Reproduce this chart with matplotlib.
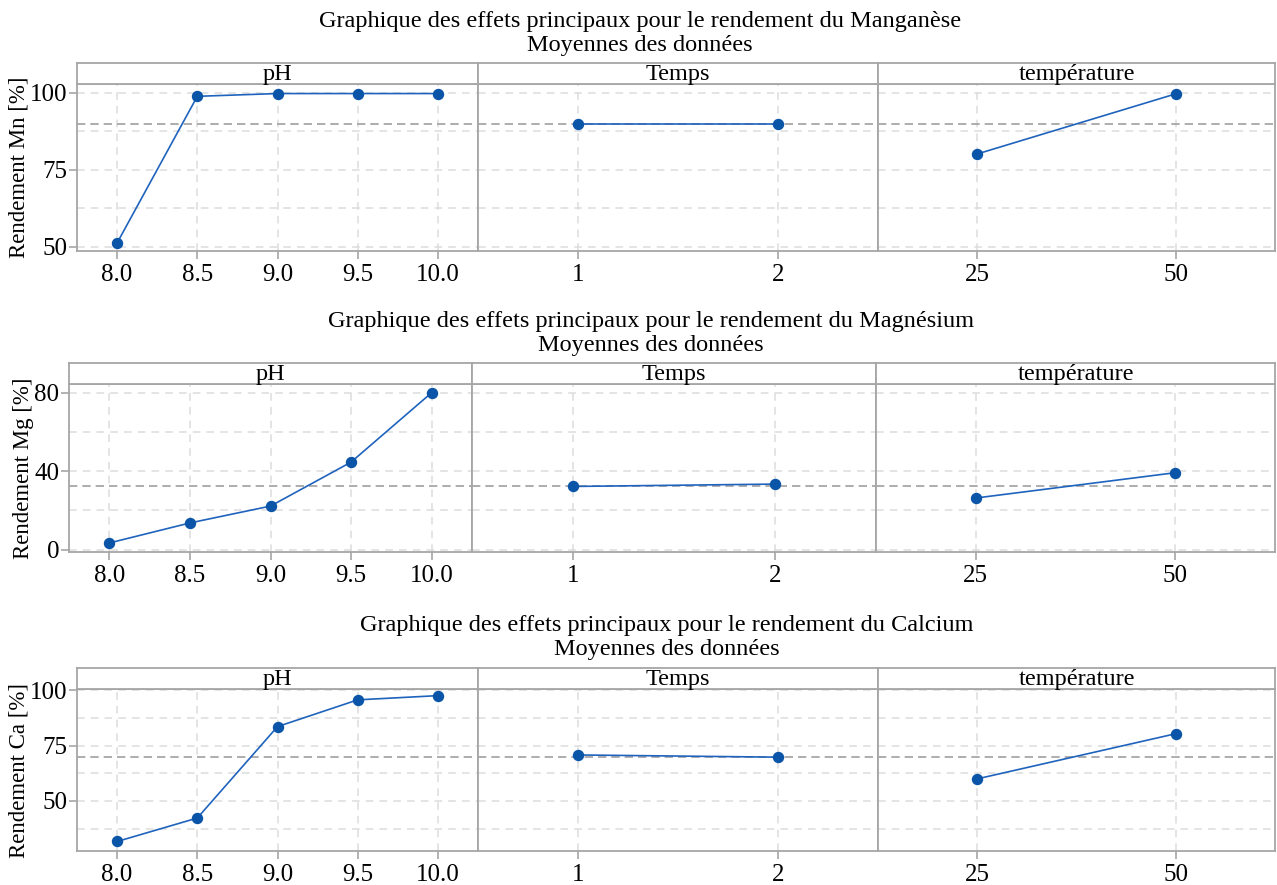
import numpy as np
import matplotlib
matplotlib.use('Agg')
import matplotlib.pyplot as plt
from matplotlib.ticker import MultipleLocator

plt.rcParams['font.family'] = ['Liberation Serif', 'DejaVu Serif']

#### DATA ####
ph_levels = [8.0, 8.5, 9.0, 9.5, 10.0]
temps_levels = [1, 2]
temp_levels = [25, 50]
facets = ['pH', 'Temps', 'température']

mn_ph = [51.3, 98.9, 99.8, 99.8, 99.8]
mn_temps = [89.9, 89.9]
mn_temp = [80.2, 99.7]
mn_mean = 89.9

mg_ph = [3.4, 13.6, 22.2, 44.6, 80.0]
mg_temps = [32.2, 33.4]
mg_temp = [26.3, 39.2]
mg_mean = 32.6

ca_ph = [31.7, 42.3, 83.6, 95.7, 97.6]
ca_temps = [70.8, 69.8]
ca_temp = [60.0, 80.4]
ca_mean = 70.0

titles = ['Graphique des effets principaux pour le rendement du Manganèse',
          'Graphique des effets principaux pour le rendement du Magnésium',
          'Graphique des effets principaux pour le rendement du Calcium']
subtitle = 'Moyennes des données'
ylabels = ['Rendement Mn [%]', 'Rendement Mg [%]', 'Rendement Ca [%]']

rows = [
    (mn_ph, mn_temps, mn_temp, mn_mean, (48.7, 102.9), 25),
    (mg_ph, mg_temps, mg_temp, mg_mean, (-1.2, 84.4), 40),
    (ca_ph, ca_temps, ca_temp, ca_mean, (27.4, 100.6), 25),
]

#### LAYOUT (pixels) ####
W, H = 1277, 885
# strip top, strip bottom, panel bottom, x edges, title center x, title y
layout = [
    (63, 84, 251, [77, 478, 878, 1275], 640, 21),
    (363, 384, 552, [69, 472, 876, 1275], 651, 322),
    (668, 689, 851, [77, 478, 878, 1275], 667, 626),
]
xlims = [(7.75, 10.25), (0.5, 2.5), (12.5, 62.5)]
xticks = [ph_levels, temps_levels, temp_levels]
xticklabels = [['8.0', '8.5', '9.0', '9.5', '10.0'], ['1', '2'], ['25', '50']]

edge = '#a6a6a6'
gridc = '#dcdcdc'
linec = '#1f63bd'
markc = '#0b55a8'

fig = plt.figure(figsize=(W / 100, H / 100), dpi=100)

for r, (ph_v, tps_v, tmp_v, mean_v, ylim, major) in enumerate(rows):
    s_top, s_bot, p_bot, xe, tx, ty = layout[r]
    fig.text(tx / W, 1 - ty / H, titles[r], ha='center', va='center', fontsize=17.5)
    fig.text(tx / W, 1 - (ty + 24) / H, subtitle, ha='center', va='center', fontsize=17.5)
    series = [ph_v, tps_v, tmp_v]
    for c in range(3):
        x0, x1 = xe[c], xe[c + 1]
        ax = fig.add_axes([x0 / W, 1 - p_bot / H, (x1 - x0) / W, (p_bot - s_bot) / H])
        ax.set_xlim(*xlims[c])
        ax.set_ylim(*ylim)
        ax.yaxis.set_major_locator(MultipleLocator(major))
        ax.yaxis.set_minor_locator(MultipleLocator(major / 2))
        ax.set_xticks(xticks[c])
        ax.set_xticklabels(xticklabels[c])
        ax.grid(True, which='both', axis='y', color=gridc, linestyle=(0, (5, 4)), linewidth=1.1)
        ax.grid(True, which='major', axis='x', color=gridc, linestyle=(0, (5, 4)), linewidth=1.1)
        ax.set_axisbelow(True)
        ax.axhline(mean_v, color='#a0a0a0', linestyle=(0, (5, 3)), linewidth=1.2, zorder=1)
        ax.plot(xticks[c], series[c], '-', color=linec, linewidth=1.2, zorder=3)
        ax.plot(xticks[c], series[c], 'o', color=markc, markersize=7.2, zorder=4)
        for sp in ax.spines.values():
            sp.set_color(edge)
            sp.set_linewidth(1.3)
        ax.tick_params(axis='both', which='major', colors=edge, labelcolor='black',
                       labelsize=18, length=6, width=1.2)
        ax.tick_params(axis='y', which='major', pad=1)
        ax.tick_params(axis='y', which='minor', length=0)
        if c == 0:
            ax.set_ylabel(ylabels[r], fontsize=16.5, labelpad=0.5)
        else:
            ax.tick_params(axis='y', which='both', left=False, labelleft=False)
        # facet strip
        sax = fig.add_axes([x0 / W, 1 - s_bot / H, (x1 - x0) / W, (s_bot - s_top) / H])
        sax.set_xticks([])
        sax.set_yticks([])
        for sp in sax.spines.values():
            sp.set_color(edge)
            sp.set_linewidth(1.3)
        sax.text(0.5, 0.45, facets[c], transform=sax.transAxes, ha='center', va='center',
                 fontsize=17.5)

plt.savefig('out.png', dpi=100)
